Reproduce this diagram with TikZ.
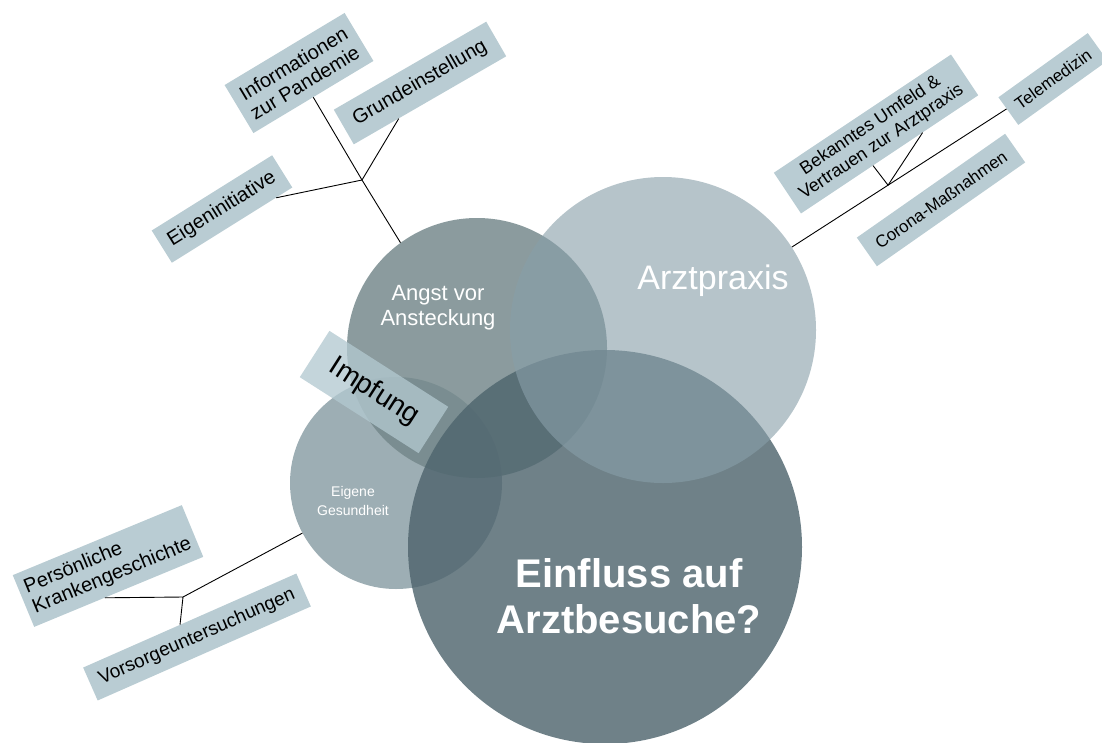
\documentclass[tikz,border=0pt]{standalone}
\usepackage{fontspec}
\setmainfont{Liberation Sans}
\usepackage{tikz}
\usetikzlibrary{calc}

\definecolor{boxfill}{RGB}{185,204,211}
\definecolor{gesundfill}{RGB}{133,154,161}
\definecolor{angstfill}{RGB}{115,135,138}
\definecolor{einflussfill}{RGB}{79,101,110}
\definecolor{arztfill}{RGB}{136,159,169}
\definecolor{impffill}{RGB}{178,200,208}

\begin{document}
\begin{tikzpicture}[x=1pt, y=-1pt,
  circ/.style={circle, inner sep=0pt, draw=none},
  lbl/.style={rectangle, fill=boxfill, inner sep=2pt, align=center, text=black},
  twig/.style={draw=black, line width=0.9pt}]
  \useasboundingbox (0,0) rectangle (1102,742);

  % ----- Circles -----
  \node[circ, fill=gesundfill, fill opacity=0.8, minimum size=212pt] (gesund) at (396,483) {};
  \node[circ, fill=angstfill, fill opacity=0.83, minimum size=260pt] (angst) at (477,348) {};
  \node[circ, fill=einflussfill, fill opacity=0.82, minimum size=394pt] (einfluss) at (605,547) {};
  \node[circ, fill=arztfill, fill opacity=0.615, minimum size=306pt] (arzt) at (663,330) {};

  % ----- Labels -----
  \node[lbl, rotate=31, minimum width=140pt, minimum height=56pt, font=\fontsize{20}{22}\selectfont] (info) at (299,73) {Informationen\\zur Pandemie};
  \node[lbl, rotate=30, minimum width=176pt, minimum height=40pt, font=\fontsize{20}{22}\selectfont] (grund) at (420,83) {Grundeinstellung};
  \node[lbl, rotate=32, minimum width=142pt, minimum height=38pt, font=\fontsize{20}{22}\selectfont] (eigeninit) at (222,209) {Eigeninitiative};
  \node[lbl, rotate=33.7, minimum width=213pt, minimum height=49pt, font=\fontsize{18}{20}\selectfont] (bekannt) at (876,134) {Bekanntes Umfeld \&\\Vertrauen zur Arztpraxis};
  \node[lbl, rotate=35.7, minimum width=110pt, minimum height=34pt, font=\fontsize{17}{19}\selectfont] (tele) at (1053,79) {Telemedizin};
  \node[lbl, rotate=35, minimum width=181pt, minimum height=35pt, font=\fontsize{17}{19}\selectfont] (corona) at (941,200) {Corona-Maßnahmen};
  \node[lbl, rotate=22.5, align=left, minimum width=183pt, minimum height=56pt, font=\fontsize{20}{22}\selectfont] (pers) at (108,566) {Persönliche\\Krankengeschichte};
  \node[lbl, rotate=23.8, minimum width=233pt, minimum height=36pt, font=\fontsize{19}{21}\selectfont] (vorsorge) at (197,637) {Vorsorgeuntersuchungen};

  % ----- Branches -----
  \coordinate (j1) at (362,180);
  \draw[twig] (angst.126) -- (j1) -- (info);
  \draw[twig] (j1) -- (eigeninit);
  \draw[twig] (j1) -- (grund);

  \coordinate (j2) at ($(arzt)!0.577!(tele)$);
  \draw[twig] (arzt) -- (tele);
  \draw[twig] (bekannt.231) -- (j2) -- (bekannt.328);

  \coordinate (j4) at (183,597);
  \draw[twig] (gesund) -- (j4);
  \draw[twig] (pers.242) -- (j4) -- (vorsorge.120);

  % Impfung across the overlap
  \node[rectangle, fill=impffill, fill opacity=0.77, text opacity=1, rotate=-32.6, minimum width=141pt, minimum height=55pt, font=\fontsize{28}{30}\selectfont] (impfung) at (374,392) {Impfung};

  % ----- Circle texts -----
  \node[text=white, align=center, font=\fontsize{22}{25}\selectfont] (angsttxt) at (438,308) {Angst vor\\Ansteckung};
  \node[text=white, font=\fontsize{34}{38}\selectfont] (arzttxt) at (713,281) {Arztpraxis};
  \node[text=white, align=center, font=\fontsize{14}{19}\selectfont] (gesundtxt) at (353,501) {Eigene\\Gesundheit};
  \node[text=white, align=center, font=\bfseries\fontsize{40}{46}\selectfont] (einflusstxt) at (629,596) {Einfluss auf\\Arztbesuche?};
\end{tikzpicture}
\end{document}
